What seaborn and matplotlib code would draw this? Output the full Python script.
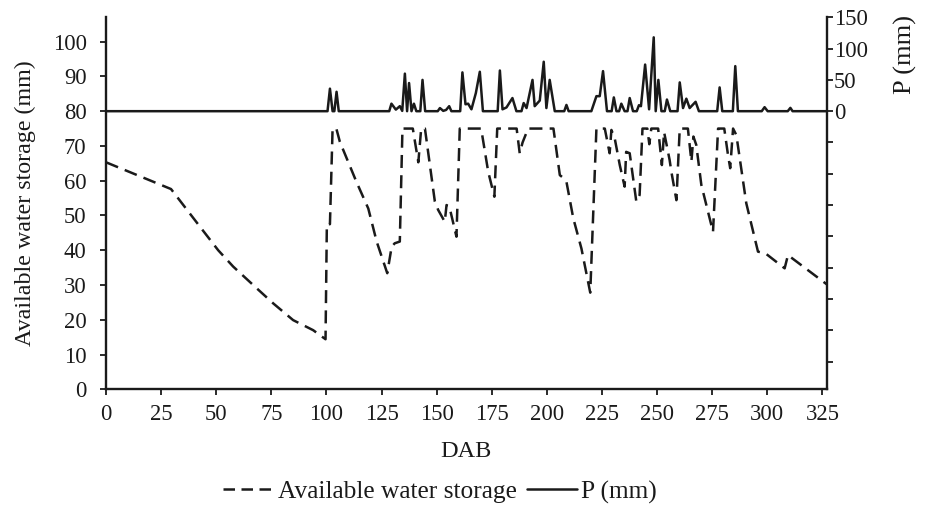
import matplotlib
matplotlib.use("Agg")
import matplotlib.pyplot as plt
from matplotlib.lines import Line2D
import seaborn as sns

# ---- data -------------------------------------------------------------
# Available water storage (mm) vs. days after beginning (DAB)
aws_day = [0, 29.5, 42.6, 50.9, 57.7, 68.3, 75.9, 84.9, 94, 99.6,
           100.2, 101.6, 102.8, 104.5, 106.1, 113.6, 119, 122.8, 127.6, 129.6,
           131, 133.3, 134.5, 139.2, 141.7, 143, 144.7, 149.2, 150.7, 153.7,
           154.5, 155.8, 159, 160.5, 170.2, 173.4, 176.2, 177.5, 186.3, 187.7,
           189, 191.5, 203, 205.9, 207.5, 208.9, 212, 215.7, 219.7, 222.5,
           226.3, 228.5, 229.3, 230.8, 233.1, 235.3, 236, 237.6, 240.6, 242.1,
           243.4, 245.6, 246.5, 247.4, 250.5, 252.2, 253.2, 255.7, 256.5, 258.8,
           260.3, 264, 265.6, 266.5, 267.8, 270.1, 275.4, 277.7, 280.5, 282.2,
           283.2, 284.5, 286, 290.5, 295.8, 299.2, 307.9, 309.4, 327]
aws_mm = [65.3, 57.6, 46.8, 40.0, 35.3, 29.1, 24.7, 19.9, 17.0, 14.4,
          47.5, 47.5, 75.0, 75.0, 71.2, 59.7, 52.0, 42.5, 33.4, 41.0,
          42.0, 42.5, 75.0, 75.0, 65.3, 75.0, 75.0, 54.0, 51.6, 48.2,
          53.0, 52.5, 43.9, 75.0, 75.0, 62.6, 55.4, 75.0, 75.0, 67.9,
          71.0, 75.0, 75.0, 61.6, 60.8, 59.7, 49.2, 40.5, 27.8, 75.0,
          75.0, 67.9, 74.6, 72.2, 64.5, 58.3, 68.3, 67.9, 54.0, 55.9,
          75.0, 75.0, 70.5, 75.0, 75.0, 64.5, 74.0, 66.0, 62.6, 54.4,
          75.0, 75.0, 65.5, 72.7, 70.3, 58.8, 45.3, 75.0, 75.0, 67.4,
          63.6, 75.0, 73.1, 53.5, 39.6, 39.1, 34.8, 38.6, 30.2]

# Daily precipitation P (mm) line vertices
p_day = [0, 100.5, 101.6, 102.8, 103.6, 104.6, 105.6,
         128.5, 129.5, 131.5, 133.3, 134.4, 135.6, 136.6, 137.5, 138.6, 139.7, 140.8,
         142.6, 143.6, 144.8,
         150.5, 151.5, 153.0, 154.3, 155.7, 156.7,
         160.7, 161.7, 163.1, 164.3, 165.8, 167.8, 169.6, 171.0,
         177.7, 178.7, 179.9, 181.7, 184.4, 186.2,
         188.5, 189.5, 190.8, 193.5, 194.5, 196.8, 198.6, 199.8, 201.3, 203.6,
         207.9, 208.9, 209.9,
         220.2, 222.5, 224.0, 225.5, 227.3,
         229.4, 230.4, 231.6, 232.8, 233.8, 235.3, 236.6, 237.6, 239.1, 240.8,
         241.8, 242.7, 244.6, 246.4, 248.5, 249.4, 250.6, 252.0, 253.5, 254.5,
         256.0, 259.3, 260.3, 261.8, 263.3, 264.8, 267.5, 269.0,
         277.3, 278.4, 279.6, 284.4, 285.5, 286.7,
         297.5, 298.8, 300.2, 309.3, 310.5, 311.5, 327]
p_mm = [0, 0, 36, 0, 0, 31, 0,
        0, 12, 2.5, 8, 0.5, 60, 0, 45, 0, 12, 0,
        0, 50, 0,
        0, 5, 0.5, 2, 8, 0,
        0, 62, 11, 12, 3, 29, 63, 0,
        0, 65, 3, 6, 21, 0,
        0, 13, 5, 50, 8, 17, 79, 5, 50, 0,
        0, 10, 0,
        0, 24, 24, 64, 0,
        0, 22, 0, 0, 12, 0, 0, 21, 0, 0,
        9.6, 8, 74.5, 3, 118, 0, 50, 0, 0, 18.6,
        0, 0, 46, 5, 20, 5, 15, 0,
        0, 38, 0, 0, 72, 0,
        0, 6.4, 0, 0, 5.3, 0, 0]

x_ticks = list(range(0, 326, 25))
left_ticks = list(range(0, 101, 10))
right_ticks = list(range(-400, 151, 50))
right_labels = [str(t) if t >= 0 else "" for t in right_ticks]

series_names = ["Available water storage", "P (mm)"]

# ---- style ---------------------------------------------------------------
sns.set_theme(style="ticks")
plt.rcParams["font.family"] = ["Liberation Serif", "DejaVu Serif"]
plt.rcParams["axes.facecolor"] = "white"
FS = 16.3      # tick labels
LFS = 17.3     # axis labels
GFS = 18.3     # legend
INK = "#1a1a1a"
LW = 1.8
DASH = (0, (5.2, 2.9))

fig = plt.figure(figsize=(9.27, 5.07), dpi=100)
ax = fig.add_axes([0.11435, 0.23215, 0.7775, 0.7337])
ax2 = ax.twinx()

sns.lineplot(x=aws_day, y=aws_mm, ax=ax, color=INK, lw=LW,
             linestyle=DASH, estimator=None, sort=False)
sns.lineplot(x=p_day, y=p_mm, ax=ax2, color=INK, lw=LW,
             estimator=None, sort=False)

ax.set_xlim(0, 327)
ax.set_ylim(0, 107)
ax2.set_ylim(-444.4, 150)

ax.set_xticks(x_ticks)
ax.set_xticklabels([str(t) for t in x_ticks])
ax.set_yticks(left_ticks)
ax.set_yticklabels([str(t) for t in left_ticks])
ax2.set_yticks(right_ticks)
ax2.set_yticklabels(right_labels)

for a in (ax, ax2):
    a.spines["top"].set_visible(False)
    for s in a.spines.values():
        s.set_color(INK)
        s.set_linewidth(1.7)
    a.grid(False)
ax.spines["right"].set_visible(False)
ax2.spines["left"].set_visible(False)
ax2.spines["bottom"].set_visible(False)

ax.tick_params(axis="y", direction="out", length=4.5, width=1.3, color=INK,
               labelsize=FS, labelcolor=INK, pad=9.5)
ax.tick_params(axis="x", direction="out", length=4.5, width=1.3, color=INK,
               labelsize=FS, labelcolor=INK, pad=6)
ax2.tick_params(axis="y", direction="out", length=4.5, width=1.3, color=INK,
                labelsize=FS, labelcolor=INK, pad=0.5)

ax.set_xlabel("DAB", fontsize=17.5, color=INK)
ax.xaxis.set_label_coords(0.5, -0.1685)
ax.xaxis.label.set_va("center")
ax.set_ylabel("Available water storage (mm)", fontsize=LFS, color=INK)
ax.yaxis.set_label_coords(-0.112, 0.5)
ax.yaxis.label.set_va("center")
ax2.set_ylabel("P (mm)", fontsize=19, color=INK)
ax2.yaxis.set_label_coords(1.1086, 0.9013)
ax2.yaxis.label.set_va("center")

handles = [Line2D([], [], color=INK, lw=LW, linestyle=(0, (4.6, 2.6))),
           Line2D([], [], color=INK, lw=LW)]
fig.legend(handles, series_names, loc="center",
           bbox_to_anchor=(440 / 927, 1 - 492 / 507), ncol=2, frameon=False,
           handlelength=2.0, handletextpad=0.15, columnspacing=0.4,
           fontsize=GFS, labelcolor=INK)

fig.savefig("out.png", dpi=100)
